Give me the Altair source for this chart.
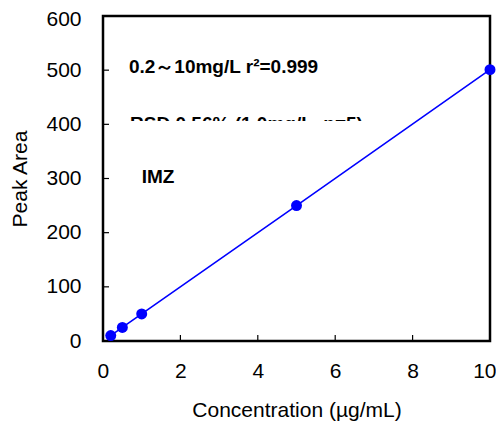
import altair as alt
import pandas as pd

conc = [0.2, 0.5, 1.0, 5.0, 10.0]
area = [10, 25, 50, 250, 501]

x_ticks = [0, 2, 4, 6, 8, 10]
y_ticks = [0, 100, 200, 300, 400, 500, 600]

df = pd.DataFrame({"c": conc, "a": area})
xt = pd.DataFrame({"v": x_ticks})
yt = pd.DataFrame({"v": y_ticks})

W, H = 387, 325
xs = alt.Scale(domain=[0, 10], nice=False)
ys = alt.Scale(domain=[0, 600], nice=False)
FONT = "Liberation Sans"
BLUE = "#0000FF"

x_ax = alt.Axis(values=x_ticks, ticks=False, labelPadding=19, labelFontSize=21,
                labelFont=FONT, labelColor="black", domain=False, grid=False,
                title="Concentration (µg/mL)", titleFont=FONT, titleFontSize=21,
                titleFontWeight="normal", titlePadding=18, titleColor="black",
                labelFlush=True, labelFlushOffset=6)
y_ax = alt.Axis(values=y_ticks, ticks=False, labelPadding=22, labelFontSize=21,
                labelFont=FONT, labelColor="black", domain=False, grid=False,
                title="Peak Area", titleFont=FONT, titleFontSize=21,
                titleFontWeight="normal", titlePadding=15, titleColor="black",
                labelFlush=False,
                labelOffset={"condition": {"test": "datum.value == 600", "value": 3}, "value": 0})

ann = dict(align="left", baseline="alphabetic", font=FONT, fontSize=19,
           fontWeight="bold", color="black")

text1 = alt.Chart(pd.DataFrame({"x": [0.67], "y": [494], "t": ["0.2～10mg/L r²=0.999"]})).mark_text(
    **ann).encode(x=alt.X("x:Q", scale=xs, axis=x_ax), y=alt.Y("y:Q", scale=ys, axis=y_ax), text="t:N")

text2 = alt.Chart(pd.DataFrame({"x": [0.70], "y": [390], "t": ["RSD 0.56% (1.0mg/L, n=5)"]})).mark_text(
    **ann).encode(x=alt.X("x:Q", scale=xs), y=alt.Y("y:Q", scale=ys), text="t:N")

cover = alt.Chart(pd.DataFrame({"x": [0.4], "x2": [7.4], "y": [360], "y2": [406]})).mark_rect(
    color="white"
).encode(x=alt.X("x:Q", scale=xs), x2="x2:Q", y=alt.Y("y:Q", scale=ys), y2="y2:Q")

text3 = alt.Chart(pd.DataFrame({"x": [1.0], "y": [292], "t": ["IMZ"]})).mark_text(
    **ann).encode(x=alt.X("x:Q", scale=xs), y=alt.Y("y:Q", scale=ys), text="t:N")

line = alt.Chart(df).mark_line(color=BLUE, strokeWidth=1.6).encode(
    x=alt.X("c:Q", scale=xs), y=alt.Y("a:Q", scale=ys))
pts = alt.Chart(df).mark_circle(color=BLUE, size=120, opacity=1).encode(
    x=alt.X("c:Q", scale=xs), y=alt.Y("a:Q", scale=ys))

xtick = alt.Chart(xt).mark_rule(color="black", strokeWidth=1.2).encode(
    x=alt.X("v:Q", scale=xs), y=alt.value(H), y2=alt.value(H - 6))
ytick = alt.Chart(yt).mark_rule(color="black", strokeWidth=1.2).encode(
    y=alt.Y("v:Q", scale=ys), x=alt.value(0), x2=alt.value(6))

frame = alt.Chart(pd.DataFrame({"k": [0]})).mark_rect(
    fill=None, stroke="black", strokeWidth=2.5
).encode(x=alt.value(0), x2=alt.value(W), y=alt.value(0), y2=alt.value(H))

chart = alt.layer(text1, text2, cover, text3, xtick, ytick, frame, line, pts).properties(
    width=W, height=H,
    background="white",
    autosize=alt.AutoSizeParams(type="none"),
    padding={"left": 95, "top": 8, "right": 6, "bottom": 81},
).configure_view(stroke=None)

chart.save("out.html", embed_options={"renderer": "svg", "actions": False})
